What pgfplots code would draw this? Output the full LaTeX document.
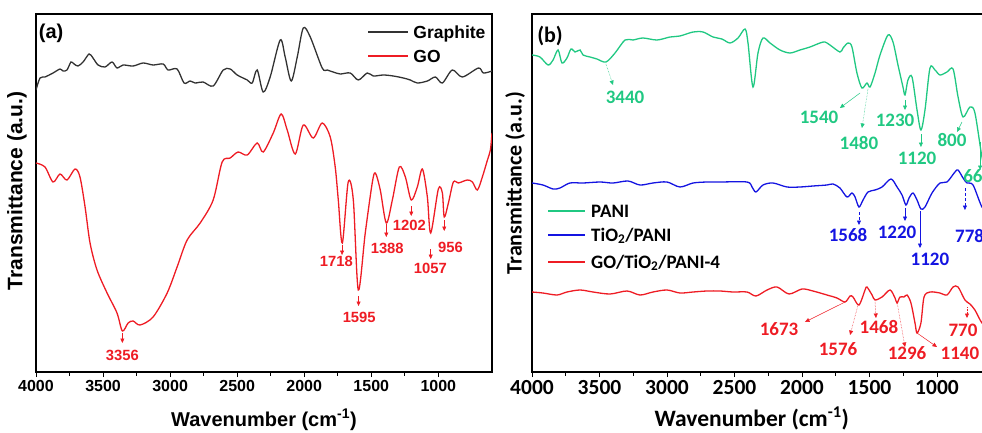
\documentclass[border=0pt]{standalone}
\usepackage{fontspec}
\setmainfont{Liberation Sans}
\newfontfamily\calibri{Carlito}
\usepackage{pgfplots}
\pgfplotsset{compat=1.18}
\usetikzlibrary{arrows.meta}
\definecolor{graphite}{RGB}{50,50,50}
\definecolor{gored}{RGB}{238,28,36}
\definecolor{pani}{RGB}{32,200,130}
\definecolor{tblue}{RGB}{20,20,225}
\tikzset{
  ar/.style={line width=0.5pt, -{Triangle[length=4.5pt,width=4pt]}},
  lba/.style={font=\fontsize{14.8}{14.8}\selectfont\bfseries, text=gored, inner sep=0pt},
  lbb/.style={font=\calibri\bfseries\fontsize{19}{19}\selectfont, inner sep=0pt},
  curve/.style={line width=1.3pt, smooth, tension=0.5},
}
\pgfplotsset{
  common/.style={
    scale only axis, x dir=reverse, xmin=600, xmax=4000, ymin=60, ymax=418,
    xtick={1000,1500,...,4000}, minor x tick num=1, ytick=\empty,
    tick align=outside, major tick length=5pt, minor tick length=3.5pt,
    xtick pos=bottom,
    axis line style={line width=1.1pt}, every tick/.style={line width=0.9pt, black},
    /pgf/number format/1000 sep={}, /pgf/number format/assume math mode=true,
  },
}
\begin{document}
\begin{tikzpicture}[x=1pt,y=1pt]
\useasboundingbox (0,0) rectangle (982,432);
\clip (0,0) rectangle (982,432);
% ---------------- panel (a) ----------------
\begin{axis}[common,
  at={(36pt,60pt)}, anchor=south west, width=456pt, height=358pt,
  xticklabel style={font=\fontsize{16}{16}\selectfont\bfseries},
  xlabel={Wavenumber (cm\textsuperscript{-1})},
  xlabel style={font=\fontsize{20}{20}\selectfont\bfseries, at={(axis description cs:0.5,-0.151)}, anchor=base},
  ylabel={Transmittance (a.u.)},
  ylabel style={font=\fontsize{21}{21}\selectfont\bfseries, at={(axis description cs:-0.042,0.506)}, anchor=center},
]
\addplot[graphite, curve] coordinates {
(4000,342)(3970,354)(3933,355)(3873,359)(3821,363)(3799,361)(3769,362)(3739,370)(3716,368)(3687,366)
(3649,370)(3604,378)(3575,374)(3537,367)(3485,365)(3433,370)(3396,364)(3351,367)(3276,366)(3201,369)
(3127,367)(3052,368)(3015,362)(2948,363)(2896,349)(2851,351)(2813,349)(2754,350)(2679,346)(2604,362)
(2552,363)(2500,357)(2425,352)(2388,349)(2351,362)(2306,340)(2254,355)(2179,392)(2142,375)(2097,351)
(2052,375)(2007,404)(1955,395)(1866,364)(1828,362)(1784,360)(1731,358)(1657,359)(1597,352)(1530,359)
(1485,356)(1410,357)(1336,356)(1261,354)(1209,352)(1157,349)(1082,351)(1022,355)(970,349)(896,362)
(821,355)(701,364)(664,359)(600,361)};
\addplot[gored, curve] coordinates {
(4000,269)(3933,265)(3873,250)(3821,258)(3769,252)(3709,263)(3672,255)(3634,225)(3597,189)(3545,162)
(3470,139)(3396,119)(3356,101)(3313,109)(3276,111)(3224,107)(3127,115)(3022,139)(2948,165)(2873,192)
(2776,209)(2679,232)(2612,270)(2552,274)(2493,280)(2425,277)(2351,289)(2306,280)(2231,299)(2172,318)
(2127,302)(2067,278)(2007,307)(1933,294)(1866,309)(1806,295)(1769,265)(1746,232)(1716,189)(1672,250)
(1634,232)(1597,142)(1545,199)(1493,249)(1470,259)(1433,242)(1388,209)(1343,232)(1291,265)(1246,255)
(1202,232)(1157,245)(1119,263)(1082,235)(1057,199)(1000,243)(970,239)(956,215)(925,229)(888,250)
(851,249)(784,252)(746,250)(709,242)(672,255)(634,272)(612,282)(600,299)};
% legend (a)
\draw[graphite, line width=1.3pt] (1522,400) -- (1224,400);
\node[anchor=base west, inner sep=0pt, font=\fontsize{17.5}{17.5}\selectfont\bfseries] at (1187,393) {Graphite};
\draw[gored, line width=1.3pt] (1522,376) -- (1224,376);
\node[anchor=base west, inner sep=0pt, font=\fontsize{17.5}{17.5}\selectfont\bfseries] at (1187,369) {GO};
\node[anchor=west, font=\fontsize{20}{20}\selectfont\bfseries, inner sep=0pt] at (axis description cs:0.006,0.947) {(a)};
\draw[gored, ar] (3356,99) -- (3356,89);  \node[lba] at (3356,77) {3356};
\draw[gored, ar] (1718,187) -- (1718,177); \node[lba] at (1761,171) {1718};
\draw[gored, ar] (1595,136) -- (1595,126); \node[lba] at (1590,115) {1595};
\draw[gored, ar] (1388,208) -- (1388,195); \node[lba] at (1381,184) {1388};
\draw[gored, ar] (1202,226) -- (1202,216); \node[lba] at (1216,207) {1202};
\draw[gored, ar] (1057,183) -- (1057,173); \node[lba] at (1060,164) {1057};
\draw[gored, ar] (956,212) -- (956,201);   \node[lba] at (910,185) {956};
\end{axis}
% ---------------- panel (b) ----------------
\begin{axis}[common,
  at={(532pt,60pt)}, anchor=south west, width=459pt, height=358pt,
  xticklabel style={font=\calibri\bfseries\fontsize{21.5}{21.5}\selectfont},
  xlabel={Wavenumber (cm\textsuperscript{-1})},
  xlabel style={font=\calibri\bfseries\fontsize{23.5}{23.5}\selectfont, at={(axis description cs:0.479,-0.151)}, anchor=base},
  ylabel={Transmittance (a.u.)},
  ylabel style={font=\calibri\bfseries\fontsize{22}{22}\selectfont, at={(axis description cs:-0.037,0.528)}, anchor=center},
]
\addplot[pani, curve] coordinates {
(4000,377)(3941,375)(3881,367)(3844,372)(3807,382)(3778,369)(3741,374)(3711,383)(3681,380)(3644,382)
(3622,377)(3570,375)(3519,373)(3452,370)(3385,379)(3311,392)(3252,392)(3178,394)(3074,392)(2978,395)
(2904,396)(2807,400)(2733,400)(2659,395)(2593,393)(2533,389)(2474,394)(2422,403)(2400,389)(2363,345)
(2326,379)(2289,394)(2237,389)(2163,382)(2089,379)(2015,382)(1941,385)(1867,389)(1830,390)(1793,387)
(1719,380)(1696,384)(1659,389)(1630,385)(1593,359)(1556,344)(1519,349)(1496,345)(1459,359)(1422,377)
(1363,397)(1326,390)(1289,367)(1252,345)(1237,337)(1215,352)(1185,355)(1148,322)(1119,302)(1089,322)
(1052,364)(1015,362)(978,357)(926,360)(881,363)(844,335)(807,315)(756,325)(719,319)(667,275)(630,255)(600,250)};
\addplot[tblue, curve] coordinates {
(4000,249)(3919,247)(3844,243)(3793,244)(3719,249)(3622,249)(3496,250)(3400,249)(3289,251)(3200,247)
(3104,249)(3000,250)(2904,245)(2807,249)(2704,250)(2607,250)(2407,250)(2370,245)(2341,240)(2289,247)
(2215,249)(2111,245)(2015,245)(1919,246)(1815,247)(1770,248)(1719,244)(1667,235)(1630,239)(1607,235)
(1578,225)(1548,232)(1511,240)(1459,242)(1407,245)(1341,253)(1296,245)(1259,237)(1230,227)(1207,234)
(1178,239)(1148,232)(1119,223)(1089,225)(1037,239)(978,249)(926,250)(867,260)(844,262)(807,254)
(778,249)(733,247)(667,225)(607,217)};
\addplot[gored, curve] coordinates {
(4000,140)(3919,139)(3815,137)(3741,140)(3644,142)(3548,140)(3422,138)(3296,141)(3200,137)(3104,140)
(3000,142)(2904,139)(2807,140)(2704,141)(2607,141)(2511,140)(2407,140)(2341,136)(2259,142)(2185,145)
(2096,138)(2000,143)(1919,141)(1815,137)(1741,134)(1681,130)(1644,136)(1622,135)(1578,127)(1533,142)
(1519,145)(1481,137)(1459,132)(1407,135)(1348,142)(1311,134)(1296,129)(1274,135)(1244,135)(1222,137)
(1193,129)(1163,109)(1148,99)(1119,109)(1096,135)(1052,140)(978,139)(926,137)(881,145)(844,145)
(793,132)(756,128)(719,122)(667,109)(607,102)};
% legend (b)
\draw[pani, line width=1.3pt] (3881,221) -- (3607,221);
\node[anchor=base west, inner sep=0pt, font=\calibri\bfseries\fontsize{19}{19}\selectfont] at (3563,215) {PANI};
\draw[tblue, line width=1.3pt] (3881,197) -- (3607,197);
\node[anchor=base west, inner sep=0pt, font=\calibri\bfseries\fontsize{19}{19}\selectfont] at (3563,191) {TiO\textsubscript{2}/PANI};
\draw[gored, line width=1.3pt] (3881,170) -- (3607,170);
\node[anchor=base west, inner sep=0pt, font=\calibri\bfseries\fontsize{19}{19}\selectfont] at (3563,164) {GO/TiO\textsubscript{2}/PANI-4};
\node[anchor=west, font=\calibri\bfseries\fontsize{22}{22}\selectfont, inner sep=0pt] at (axis description cs:0.011,0.939) {(b)};
% PANI annotations
\draw[pani, ar, densely dotted] (3452,368) -- (3400,347); \node[lbb, text=pani] at (3311,335) {3440};
\draw[pani, ar] (1570,339) -- (1719,324);  \node[lbb, text=pani] at (1874,315) {1540};
\draw[pani, ar, densely dotted] (1511,343) -- (1556,304); \node[lbb, text=pani] at (1578,289) {1480};
\draw[pani, ar] (1237,332) -- (1237,322);  \node[lbb, text=pani] at (1311,312) {1230};
\draw[pani, ar] (1119,298) -- (1119,285);  \node[lbb, text=pani] at (1148,274) {1120};
\draw[pani, ar] (815,310) -- (852,300);    \node[lbb, text=pani] at (889,292) {800};
\draw[pani, ar] (681,290) -- (681,262);    \node[lbb, text=pani, anchor=west] at (807,256) {668};
% TiO2/PANI annotations
\draw[tblue, ar, densely dashed] (1578,220) -- (1578,207); \node[lbb, text=tblue] at (1659,197) {1568};
\draw[tblue, ar] (1237,224) -- (1237,211); \node[lbb, text=tblue] at (1296,200) {1220};
\draw[tblue, ar] (1126,221) -- (1126,184); \node[lbb, text=tblue] at (1052,173) {1120};
\draw[tblue, ar, densely dashed] (793,244) -- (793,222); \node[lbb, text=tblue, anchor=west] at (867,196) {778};
% GO/TiO2/PANI-4 annotations
\draw[gored, ar] (1681,130) -- (1978,110); \node[lbb, text=gored] at (2170,103) {1673};
\draw[gored, ar, densely dotted] (1585,127) -- (1644,97); \node[lbb, text=gored] at (1733,83) {1576};
\draw[gored, ar, densely dotted] (1459,130) -- (1452,114); \node[lbb, text=gored] at (1430,105) {1468};
\draw[gored, ar, densely dotted] (1296,130) -- (1237,85); \node[lbb, text=gored] at (1222,79) {1296};
\draw[gored, ar] (1148,99) -- (1000,85); \node[lbb, text=gored] at (830,79) {1140};
\draw[gored, ar, densely dotted] (778,125) -- (778,114); \node[lbb, text=gored] at (807,102) {770};
\end{axis}
\end{tikzpicture}
\end{document}
